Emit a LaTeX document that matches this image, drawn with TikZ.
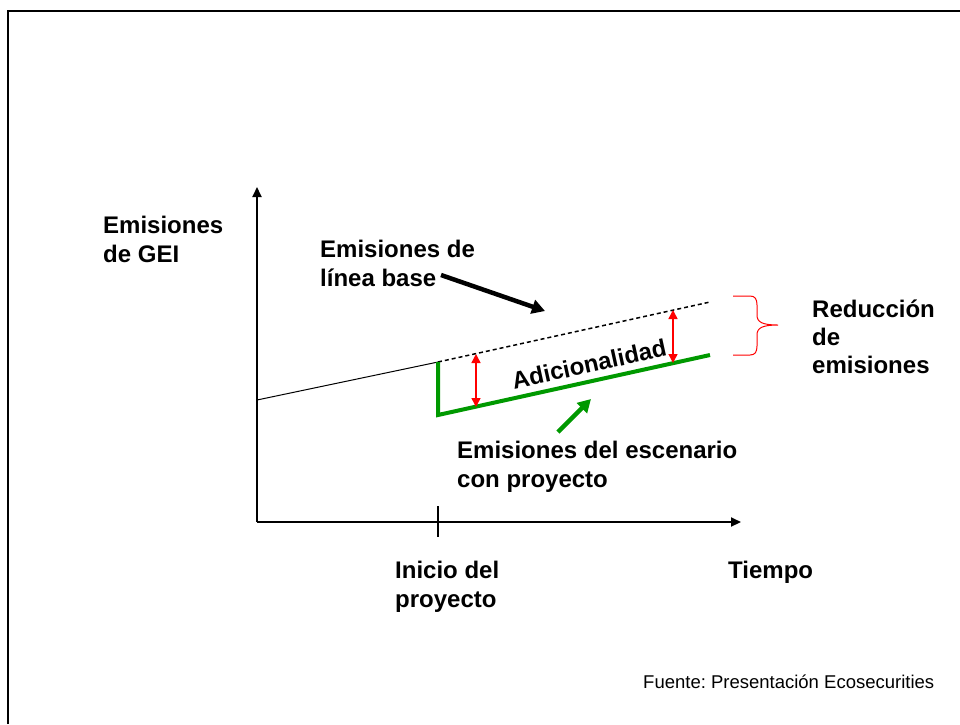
\documentclass[tikz,border=0pt]{standalone}
\usepackage{fontspec}
\setmainfont{Liberation Sans}
\usetikzlibrary{arrows.meta}
\definecolor{verde}{RGB}{0,153,0}
\frenchspacing

\begin{document}
\begin{tikzpicture}[x=1pt, y=-1pt, line join=miter, >=Triangle,
  etiqueta/.style={anchor=base west, align=left, inner sep=0pt, font=\fontsize{24}{29}\selectfont\bfseries},
  flecharoja/.style={red, line width=1.5pt, {Triangle[length=9pt,width=9pt]}-{Triangle[length=9pt,width=9pt]}},
  flechagruesa/.style={line width=4.5pt, -{Triangle[length=13pt,width=14pt]}}]
  \useasboundingbox (0,0) rectangle (960,724);
  \draw [line width=2pt] (8,724) -- (8,11) -- (960,11);
  % puntos de las lineas
  \coordinate (origen) at (257,522);
  \coordinate (ytope) at (257,187);
  \coordinate (xfin) at (741,522);
  \coordinate (b0) at (257,400);
  \coordinate (b1) at (438,362);
  \coordinate (b2) at (710,302);
  \coordinate (v0) at (438,415);
  \coordinate (v1) at (710,355);
  \coordinate (t0) at (438,506);
  \coordinate (t1) at (438,537);
  % ejes
  \draw [line width=2pt, -{Triangle[length=10pt,width=9pt]}] (origen) -- (ytope);
  \draw [line width=2pt, -{Triangle[length=10pt,width=9pt]}] (origen) -- (xfin);
  \draw [line width=2pt] (t0) -- (t1);
  \draw [line width=1pt] (b0) -- (b1);
  \draw [line width=1.5pt, dash pattern=on 4pt off 3pt] (b1) -- (b2);
  \draw [verde, line width=4pt] (b1) -- (v0) -- (v1);
  \coordinate (r1a) at (476,354);
  \coordinate (r1b) at (476,407);
  \coordinate (r2a) at (673,310);
  \coordinate (r2b) at (673,363);
  \draw [flecharoja] (r1a) -- (r1b);
  \draw [flecharoja] (r2a) -- (r2b);
  \node [font=\fontsize{24}{29}\selectfont\bfseries, rotate=12.4, inner sep=0pt] (adic) at (589,364) {Adicionalidad};
  \coordinate (n0) at (441,275);
  \coordinate (n1) at (545,311);
  \draw [flechagruesa] (n0) -- (n1);
  \coordinate (g0) at (558,432);
  \coordinate (g1) at (591,399);
  \draw [flechagruesa, verde] (g0) -- (g1);
  \draw [red, line width=1pt] (733,296) -- (750,296) .. controls (755,296) and (757,299) .. (757,305) -- (757,315) .. controls (757,322) and (762,325) .. (778,325) .. controls (762,325) and (757,328) .. (757,335) -- (757,346) .. controls (757,352) and (755,355) .. (750,355) -- (733,355);
  % textos (base = ultima linea)
  \node [etiqueta] (ejey) at (103,262) {Emisiones\\de GEI};
  \node [etiqueta] (base) at (320,286) {Emisiones de\\línea base};
  \node [etiqueta, font=\fontsize{24}{28}\selectfont\bfseries] (reduccion) at (812,373) {Reducción\\de\\emisiones};
  \node [etiqueta] (proyecto) at (457,487) {Emisiones del escenario\\con proyecto};
  \node [etiqueta] (inicio) at (395,607) {Inicio del\\proyecto};
  \node [etiqueta] (tiempo) at (728,578) {Tiempo};
  \node [anchor=base west, inner sep=0pt, font=\fontsize{18.5}{22}\selectfont] (fuente) at (643,688) {Fuente: Presentación Ecosecurities};
\end{tikzpicture}
\end{document}
